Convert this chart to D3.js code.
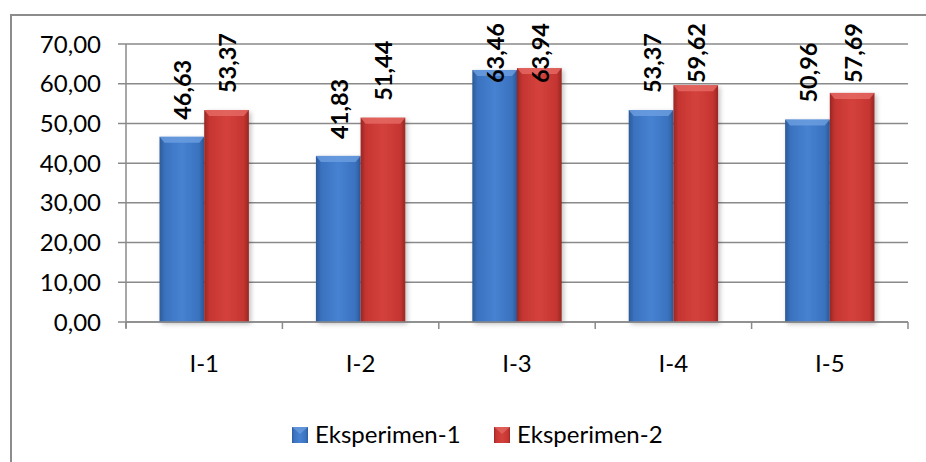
<!DOCTYPE html>
<html><head><meta charset="utf-8">
<script src="https://cdn.jsdelivr.net/npm/d3@7/dist/d3.min.js"></script>
<style>
html,body{margin:0;padding:0;background:#fff;}
svg{display:block;}
text{font-family:Lato,"Noto Sans",sans-serif;fill:#000;}
</style></head>
<body>
<svg id="chart" width="926" height="462"></svg>
<script>
const categories = ["I-1","I-2","I-3","I-4","I-5"];
const seriesNames = ["Eksperimen-1","Eksperimen-2"];
const eksperimen1 = [46.63, 41.83, 63.46, 53.37, 50.96];
const eksperimen2 = [53.37, 51.44, 63.94, 59.62, 57.69];
const yTicks = [0,10,20,30,40,50,60,70];

const svg = d3.select("#chart");
const plot = {left:126, right:908, top:44, bottom:322};

// chart border
svg.append("rect").attr("x",11).attr("y",15).attr("width",930).attr("height",460)
  .attr("fill","#fff").attr("stroke","#8c8c8c").attr("stroke-width",2);

const defs = svg.append("defs");
function hGrad(id, edge, mid, center){
  const g = defs.append("linearGradient").attr("id",id).attr("x1","0").attr("x2","1").attr("y1","0").attr("y2","0");
  [[0,edge],[0.12,mid],[0.5,center],[0.88,mid],[1,edge]].forEach(([o,c])=>g.append("stop").attr("offset",o).attr("stop-color",c));
}
hGrad("gBlue","#2c5a98","#3a72bf","#4682d1");
hGrad("gRed","#982724","#c63531","#d4423c");
const fills = ["url(#gBlue)","url(#gRed)"];
const bevel = ["#6d9fe0","#e66a65"];
const filt = defs.append("filter").attr("id","sh").attr("x","-20%").attr("y","-20%").attr("width","150%").attr("height","150%");
filt.append("feGaussianBlur").attr("in","SourceAlpha").attr("stdDeviation",2.5).attr("result","b");
filt.append("feOffset").attr("in","b").attr("dx",2).attr("dy",2).attr("result","o");
filt.append("feComponentTransfer").attr("in","o").attr("result","oa").append("feFuncA").attr("type","linear").attr("slope",0.25);
const fm = filt.append("feMerge"); fm.append("feMergeNode").attr("in","oa"); fm.append("feMergeNode").attr("in","SourceGraphic");

const y = d3.scaleLinear().domain([0,70]).range([plot.bottom, plot.top]);
const x0 = d3.scaleBand().domain(categories).range([plot.left, plot.right]).padding(0);
const x1 = d3.scaleBand().domain(seriesNames).range([0, x0.bandwidth()]).paddingInner(0).paddingOuter(0.75);

const fmt = v => d3.format(".2f")(v).replace(".", ",");

// gridlines + y tick labels
const gy = svg.append("g");
yTicks.forEach(t=>{
  gy.append("line").attr("x1",plot.left-8).attr("x2",plot.right).attr("y1",y(t)).attr("y2",y(t))
    .attr("stroke","#8a8a8a").attr("stroke-width",1.5);
  gy.append("text").attr("x",101).attr("y",y(t)).attr("dy","0.36em").attr("text-anchor","end")
    .style("font-size","24px").text(fmt(t));
});
svg.append("line").attr("x1",plot.left).attr("x2",plot.left).attr("y1",plot.top).attr("y2",plot.bottom+6)
  .attr("stroke","#8a8a8a").attr("stroke-width",1.5);

const data = categories.map((c,i)=>({cat:c, vals:[eksperimen1[i], eksperimen2[i]]}));

// bars
const groups = svg.append("g").selectAll("g").data(data).join("g")
  .attr("transform", d=>`translate(${x0(d.cat)},0)`);
groups.each(function(d){
  const g = d3.select(this);
  d.vals.forEach((v,si)=>{
    const bx = x1(seriesNames[si]), bw = x1.bandwidth(), by = y(v), bh = y(0)-y(v);
    g.append("rect").attr("x",bx).attr("y",by).attr("width",bw).attr("height",bh)
      .attr("fill",fills[si]).attr("filter","url(#sh)");
    g.append("polygon").attr("points",`${bx},${by} ${bx+bw},${by} ${bx+bw-5},${by+6} ${bx+5},${by+6}`)
      .attr("fill",bevel[si]).attr("opacity",0.8);
  });
});

// x axis
svg.append("line").attr("x1",plot.left).attr("x2",plot.right).attr("y1",plot.bottom).attr("y2",plot.bottom)
  .attr("stroke","#8a8a8a").attr("stroke-width",1.5);
const bounds = categories.map(c=>x0(c)).concat([plot.right]);
bounds.forEach(bx=>{
  svg.append("line").attr("x1",bx).attr("x2",bx).attr("y1",plot.bottom).attr("y2",plot.bottom+7)
    .attr("stroke","#8a8a8a").attr("stroke-width",1.5);
});
categories.forEach(c=>{
  svg.append("text").attr("x",x0(c)+x0.bandwidth()/2).attr("y",372).attr("text-anchor","middle")
    .style("font-size","24px").text(c);
});

// data labels
const lab = svg.append("g");
data.forEach(d=>{
  d.vals.forEach((v,si)=>{
    const cx = x0(d.cat)+x1(seriesNames[si])+x1.bandwidth()/2 + 1;
    const t = lab.append("text").style("font-size","23.5px").style("font-weight","bold").text(fmt(v));
    const L = t.node().getComputedTextLength();
    let start = y(v) - 17;
    if (start - L < 23) start = 23 + L;
    t.attr("transform",`translate(${cx},${start}) rotate(-90)`).attr("dy","0.36em");
  });
});

// legend
const legX = [292, 494];
seriesNames.forEach((s,i)=>{
  svg.append("rect").attr("x",legX[i]).attr("y",427).attr("width",16).attr("height",16).attr("fill",fills[i]);
  svg.append("polygon").attr("points",`${legX[i]},427 ${legX[i]+16},427 ${legX[i]+8},434`).attr("fill",bevel[i]).attr("opacity",0.7);
  svg.append("text").attr("x",legX[i]+23).attr("y",443).style("font-size","24px").text(s);
});
</script>
</body></html>
